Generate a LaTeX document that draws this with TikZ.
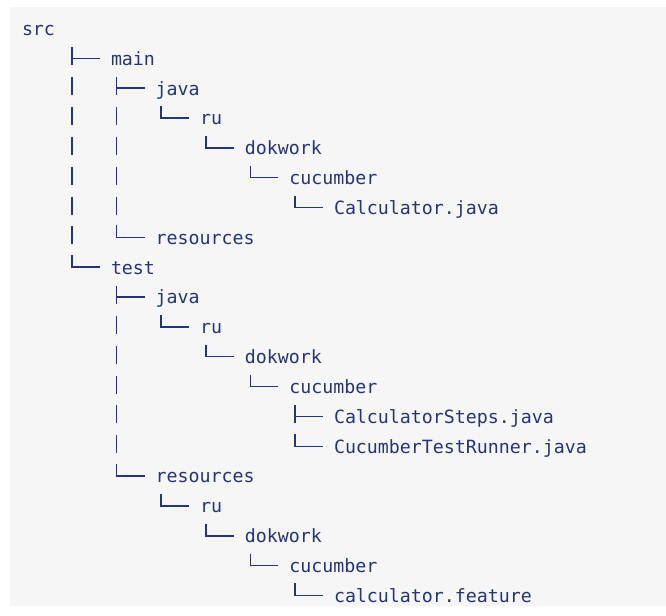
\documentclass[tikz,border=0pt]{standalone}
\usepackage{fontspec}
\setmonofont{DejaVu Sans Mono}
\usetikzlibrary{calc}
\definecolor{treeink}{HTML}{24367A}
\definecolor{codebg}{HTML}{F6F6F6}

% tree glyphs drawn in front of a named entry
\newcommand\teebranch[1]{% a branch with more siblings below
  \draw[guide] ($(#1.mid west)+(-39,-15)$) -- ++(0,18);
  \draw[guide] ($(#1.mid west)+(-39,-4)$) -- ($(#1.mid west)+(-11,-4)$);}
\newcommand\lastbranch[1]{% the last branch of a folder
  \draw[guide] ($(#1.mid west)+(-39,-16)$) -- ++(0,12) -- ++(28,0);}
\newcommand\passbar[2]{% the guide of branch #2 passing the row of #1
  \draw[guide] ($(#1.mid west -| #2.mid west)+(-39,-15)$) -- ++(0,18);}

\begin{document}
\begin{tikzpicture}[x=0.75pt,y=-0.75pt,
  entry/.style={anchor=mid west, inner sep=0pt, outer sep=0pt, text=treeink,
    font=\ttfamily\fontsize{13.7pt}{16pt}\selectfont},
  guide/.style={draw=treeink, line width=1.1pt}]

\useasboundingbox (0,0) rectangle (666,616);
\fill[white] (0,0) rectangle (666,616);
\fill[codebg] (10,7) rectangle (666,606);

% entries, one row each
\node[entry] (src)     at (22,   {32.5+29.84*0})  {src};
\node[entry] (main)    at (111,  {32.5+29.84*1})  {main};
\node[entry] (mjava)   at (155.6,{32.5+29.84*2})  {java};
\node[entry] (mru)     at (200.2,{32.5+29.84*3})  {ru};
\node[entry] (mdok)    at (244.8,{32.5+29.84*4})  {dokwork};
\node[entry] (mcuc)    at (289.4,{32.5+29.84*5})  {cucumber};
\node[entry] (mcalc)   at (334,  {32.5+29.84*6})  {Calculator.java};
\node[entry] (mres)    at (155.6,{32.5+29.84*7})  {resources};
\node[entry] (test)    at (111,  {32.5+29.84*8})  {test};
\node[entry] (tjava)   at (155.6,{32.5+29.84*9})  {java};
\node[entry] (tru)     at (200.2,{32.5+29.84*10}) {ru};
\node[entry] (tdok)    at (244.8,{32.5+29.84*11}) {dokwork};
\node[entry] (tcuc)    at (289.4,{32.5+29.84*12}) {cucumber};
\node[entry] (tsteps)  at (334,  {32.5+29.84*13}) {CalculatorSteps.java};
\node[entry] (trunner) at (334,  {32.5+29.84*14}) {CucumberTestRunner.java};
\node[entry] (tres)    at (155.6,{32.5+29.84*15}) {resources};
\node[entry] (rru)     at (200.2,{32.5+29.84*16}) {ru};
\node[entry] (rdok)    at (244.8,{32.5+29.84*17}) {dokwork};
\node[entry] (rcuc)    at (289.4,{32.5+29.84*18}) {cucumber};
\node[entry] (rfeat)   at (334,  {32.5+29.84*19}) {calculator.feature};

% branches
\teebranch{main}
\teebranch{mjava}
\lastbranch{mru}
\lastbranch{mdok}
\lastbranch{mcuc}
\lastbranch{mcalc}
\lastbranch{mres}
\lastbranch{test}
\teebranch{tjava}
\lastbranch{tru}
\lastbranch{tdok}
\lastbranch{tcuc}
\teebranch{tsteps}
\lastbranch{trunner}
\lastbranch{tres}
\lastbranch{rru}
\lastbranch{rdok}
\lastbranch{rcuc}
\lastbranch{rfeat}

% guides running past deeper rows
\foreach \r in {mjava,mru,mdok,mcuc,mcalc,mres} {\passbar{\r}{main}}
\foreach \r in {mru,mdok,mcuc,mcalc} {\passbar{\r}{mjava}}
\foreach \r in {tru,tdok,tcuc,tsteps,trunner} {\passbar{\r}{tjava}}
\end{tikzpicture}
\end{document}
